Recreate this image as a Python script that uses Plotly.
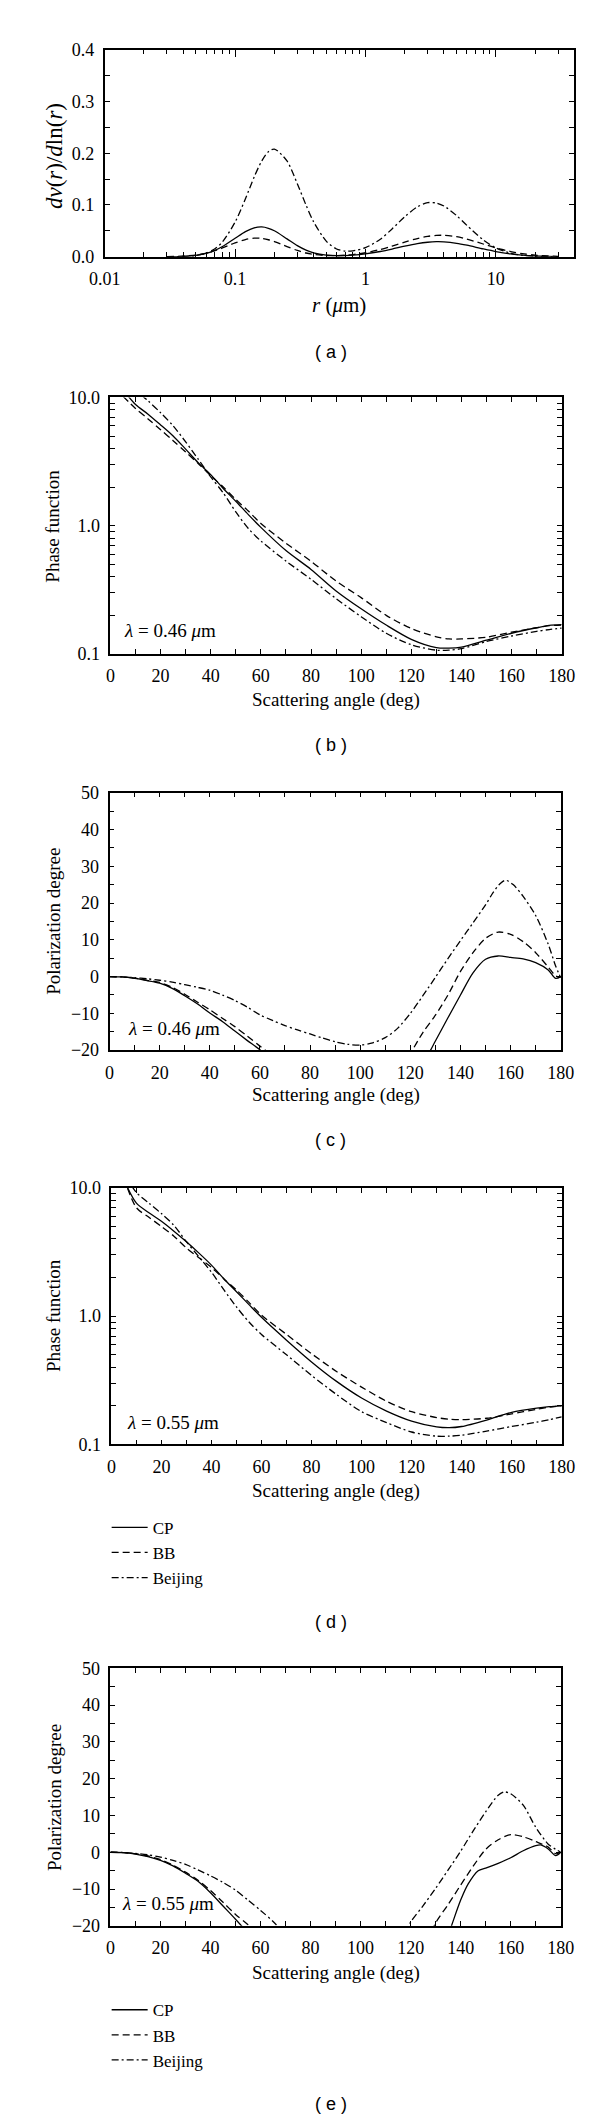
import plotly.graph_objects as go

# ---------------- data: panel (a) size distribution ----------------
r_um = [0.03, 0.04, 0.05, 0.06, 0.07, 0.08, 0.1, 0.12, 0.14, 0.16, 0.18, 0.2, 0.25, 0.3, 0.35,
        0.4, 0.5, 0.6, 0.7, 0.8, 1.0, 1.3, 1.6, 2.0, 2.5, 3.0, 3.5, 4.0, 5.0, 6.0, 8.0, 10,
        13, 16, 20, 25, 30]
dv_cp = [0.0001, 0.0007, 0.0026, 0.0065, 0.0123, 0.0197, 0.0356, 0.0485, 0.0557, 0.0575, 0.055,
         0.0501, 0.0345, 0.0214, 0.0127, 0.0075, 0.0029, 0.0019, 0.0022, 0.003, 0.0055, 0.0101,
         0.0148, 0.0204, 0.0253, 0.028, 0.029, 0.0287, 0.026, 0.0222, 0.0151, 0.010, 0.0054,
         0.003, 0.0014, 0.0006, 0.0003]
dv_bb = [0.0002, 0.0011, 0.0032, 0.0069, 0.0116, 0.0169, 0.0267, 0.0332, 0.0359, 0.0354, 0.0328,
         0.0292, 0.0196, 0.0121, 0.0072, 0.0046, 0.0024, 0.0022, 0.003, 0.0042, 0.0077, 0.014,
         0.0205, 0.0281, 0.0352, 0.0394, 0.0412, 0.0414, 0.0387, 0.0341, 0.0246, 0.0172, 0.010,
         0.0059, 0.0031, 0.0015, 0.0007]
dv_bj = [0.0, 0.0005, 0.0022, 0.0068, 0.0155, 0.0287, 0.067, 0.112, 0.154, 0.185, 0.203, 0.208,
         0.185, 0.141, 0.0997, 0.0675, 0.0302, 0.015, 0.011, 0.0115, 0.0175, 0.0338, 0.0537,
         0.0772, 0.0964, 0.1044, 0.1038, 0.098, 0.0795, 0.0605, 0.0326, 0.0171, 0.0067, 0.0028,
         0.001, 0.0003, 0.0001]

# ---------------- data: phase functions (b) 0.46 um, (d) 0.55 um ----------------
ang_pf = [5, 10, 15, 20, 25, 30, 35, 40, 45, 50, 55, 60, 70, 80, 90, 100, 110, 120, 130, 135,
          140, 150, 160, 170, 175, 180]
pf46_cp = [11.5, 8.8, 7.4, 6.1, 5.0, 3.95, 3.1, 2.5, 1.95, 1.55, 1.22, 0.97, 0.64, 0.456, 0.31,
           0.225, 0.168, 0.13, 0.112, 0.111, 0.113, 0.128, 0.145, 0.160, 0.167, 0.169]
pf46_bb = [10.2, 8.2, 6.8, 5.6, 4.6, 3.75, 3.05, 2.45, 2.0, 1.6, 1.3, 1.04, 0.73, 0.528, 0.37,
           0.275, 0.20, 0.158, 0.136, 0.131, 0.131, 0.135, 0.148, 0.16, 0.166, 0.168]
pf46_bj = [16, 11.5, 9.4, 7.6, 6.0, 4.5, 3.3, 2.4, 1.8, 1.28, 0.95, 0.76, 0.53, 0.382, 0.27,
           0.195, 0.145, 0.118, 0.107, 0.107, 0.11, 0.125, 0.138, 0.150, 0.155, 0.159]
pf55_cp = [11.5, 7.6, 6.4, 5.5, 4.6, 3.8, 3.1, 2.5, 1.95, 1.55, 1.23, 0.98, 0.65, 0.44, 0.31,
           0.23, 0.182, 0.152, 0.137, 0.135, 0.138, 0.155, 0.178, 0.192, 0.197, 0.20]
pf55_bb = [12, 7.0, 5.9, 5.0, 4.2, 3.4, 2.85, 2.4, 1.95, 1.6, 1.28, 1.02, 0.72, 0.51, 0.37,
           0.28, 0.217, 0.18, 0.162, 0.157, 0.156, 0.16, 0.173, 0.188, 0.195, 0.20]
pf55_bj = [13, 9.2, 7.6, 6.3, 5.1, 3.8, 2.9, 2.2, 1.6, 1.18, 0.9, 0.72, 0.5, 0.345, 0.245,
           0.18, 0.148, 0.125, 0.116, 0.116, 0.118, 0.127, 0.138, 0.149, 0.156, 0.164]

# ---------------- data: polarization degree (c) 0.46 um ----------------
pc_cp_ang = [0, 5, 10, 15, 20, 25, 30, 35, 40, 45, 50, 55, 60, 65, 90, 120, 125, 130, 135, 140,
             145, 150, 155, 160, 165, 170, 175, 178, 180]
pc_cp = [0, -0.1, -0.5, -1.1, -1.8, -3.2, -5.2, -7.4, -9.9, -12.2, -14.8, -17.4, -19.9, -23,
         None, -30, -24, -17.5, -11.2, -5.0, 1.0, 4.7, 5.6, 5.2, 4.8, 3.8, 1.8, -0.5, 0]
pc_bb_ang = [0, 5, 10, 15, 20, 25, 30, 35, 40, 45, 50, 55, 60, 65, 70, 90, 115, 120, 125, 130,
             135, 140, 145, 150, 155, 160, 165, 170, 175, 178, 180]
pc_bb = [0, -0.1, -0.4, -1.0, -1.6, -2.9, -4.8, -6.9, -9.0, -11.3, -13.6, -16.2, -18.9, -21.5,
         -24.5, None, -27, -21, -15.2, -10.5, -5.0, 1.4, 6.5, 10.4, 12.1, 11.5, 9.5, 6.5, 2.6,
         0.2, -0.2]
pc_bj_ang = [0, 5, 10, 15, 20, 25, 30, 35, 40, 45, 50, 55, 60, 65, 70, 75, 80, 85, 90, 95, 100,
             105, 110, 115, 120, 125, 130, 135, 140, 145, 150, 153, 156, 158, 161, 165, 170, 175,
             178, 180]
pc_bj = [0, -0.1, -0.3, -0.6, -1.0, -1.5, -2.2, -2.9, -3.7, -5.0, -6.5, -8.3, -10.4, -11.9,
         -13.3, -14.5, -15.6, -16.7, -17.7, -18.4, -18.6, -18.0, -16.6, -14.0, -10.0, -5.2, -0.2,
         4.9, 9.8, 14.6, 19.5, 22.8, 25.4, 26.2, 25.0, 21.8, 16.6, 8.8, 2.8, -0.3]

# ---------------- data: polarization degree (e) 0.55 um ----------------
pe_cp_ang = [0, 5, 10, 15, 20, 25, 30, 35, 40, 45, 50, 55, 60, 90, 130, 135, 140, 143, 147, 150,
             155, 160, 165, 170, 172, 175, 178, 180]
pe_cp = [0, -0.1, -0.5, -1.2, -2.2, -3.7, -5.7, -7.9, -11.0, -14.6, -18.2, -22.0, -26, None,
         -31, -22.5, -13.0, -8.6, -5.0, -4.3, -3.0, -1.5, 0.4, 1.8, 2.0, 0.9, -0.9, 0]
pe_bb_ang = [0, 5, 10, 15, 20, 25, 30, 35, 40, 45, 50, 55, 60, 90, 125, 130, 135, 140, 145, 150,
             155, 160, 165, 170, 175, 178, 180]
pe_bb = [0, -0.1, -0.4, -1.0, -2.0, -3.5, -5.4, -7.6, -10.4, -13.6, -16.9, -19.7, -23, None,
         -27, -19.2, -14.2, -8.9, -3.8, 0.8, 3.4, 4.8, 4.2, 2.9, 1.4, -0.4, 0]
pe_bj_ang = [0, 5, 10, 15, 20, 25, 30, 35, 40, 45, 50, 55, 60, 65, 70, 95, 115, 120, 125, 130,
             135, 140, 145, 150, 155, 157.5, 160, 165, 170, 175, 178, 180]
pe_bj = [0, -0.05, -0.3, -0.7, -1.3, -2.2, -3.3, -4.8, -6.4, -8.2, -10.3, -13.0, -15.8, -18.8,
         -22.5, None, -25.5, -19.0, -14.5, -9.8, -4.8, 0.3, 5.8, 11.0, 15.5, 16.4, 15.9, 12.8,
         6.8, 2.2, 0.8, 0]

series_names = ["CP", "BB", "Beijing"]
dash_styles = {"CP": "solid", "BB": "7px,4px", "Beijing": "7px,3px,2px,3px"}

SERIF = "Liberation Serif"
W, H = 600, 2122

fig = go.Figure()


def add_panel(idx, xs_list, ys_list, legend=None):
    xa = "x" if idx == 1 else f"x{idx}"
    ya = "y" if idx == 1 else f"y{idx}"
    for name, xs, ys in zip(series_names, xs_list, ys_list):
        fig.add_trace(go.Scatter(
            x=xs, y=ys, mode="lines", name=name, xaxis=xa, yaxis=ya,
            line=dict(color="black", width=1.3, dash=dash_styles[name], shape="spline",
                      smoothing=0.8),
            showlegend=legend is not None, legend=legend if legend else "legend",
            connectgaps=False, hoverinfo="skip"))


add_panel(1, [r_um] * 3, [dv_cp, dv_bb, dv_bj])
add_panel(2, [ang_pf] * 3, [pf46_cp, pf46_bb, pf46_bj])
add_panel(3, [pc_cp_ang, pc_bb_ang, pc_bj_ang], [pc_cp, pc_bb, pc_bj])
add_panel(4, [ang_pf] * 3, [pf55_cp, pf55_bb, pf55_bj], legend="legend")
add_panel(5, [pe_cp_ang, pe_bb_ang, pe_bj_ang], [pe_cp, pe_bb, pe_bj], legend="legend2")

# panel frames in pixels: (left, right, top, bottom)
frames = {
    1: (85, 579, 32, 241),
    2: (91, 566, 383, 642),
    3: (90, 565, 782, 1042),
    4: (92, 566, 1181, 1440),
    5: (91, 565, 1666, 1926),
}


def xdom(i):
    l, r, t, b = frames[i]
    return [l / W, r / W]


def ydom(i):
    l, r, t, b = frames[i]
    return [1 - b / H, 1 - t / H]


tickfont = dict(family=SERIF, size=18, color="black")


def base_axis(**kw):
    d = dict(showline=True, linecolor="black", linewidth=1.6, mirror="ticks",
             ticks="inside", ticklen=5, tickwidth=1.2, tickcolor="black",
             showgrid=False, zeroline=False, tickfont=tickfont, ticklabelstandoff=5)
    d.update(kw)
    return d


def log_minor(decades):
    vals = []
    for d in decades:
        for k in range(2, 10):
            vals.append(k * 10 ** d)
    return vals


minor_lin = lambda dt: dict(dtick=dt, ticks="inside", ticklen=5, tickwidth=1.2, tickcolor="black")

layout = dict(
    width=W, height=H, margin=dict(l=0, r=0, t=0, b=0),
    paper_bgcolor="white", plot_bgcolor="white",
    font=dict(family=SERIF, size=18, color="black"),
)

# panel (a)
layout["xaxis"] = base_axis(
    domain=xdom(1), anchor="y", type="log", range=[-2, 1.6],
    tickmode="array", tickvals=[0.01, 0.1, 1, 10], ticktext=["0.01", "0.1", "1", "10"],
    ticklen=8,
    minor=dict(tickmode="array", tickvals=log_minor([-2, -1, 0, 1]), ticks="inside",
               ticklen=5, tickwidth=1.2, tickcolor="black"))
layout["yaxis"] = base_axis(
    domain=ydom(1), anchor="x", range=[0, 0.4], dtick=0.1, tickformat=".1f",
    minor=minor_lin(0.05))

for i in (2, 3, 4, 5):
    layout[f"xaxis{i}"] = base_axis(domain=xdom(i), anchor=f"y{i}", range=[0, 180], dtick=20,
                                    minor=minor_lin(10))
    if i in (2, 4):
        ya = dict(domain=ydom(i), anchor=f"x{i}", type="log", range=[-1, 1],
                  tickmode="array", tickvals=[0.1, 1, 10], ticktext=["0.1", "1.0", "10.0"],
                  minor=dict(tickmode="array", tickvals=log_minor([-1, 0]), ticks="inside",
                             ticklen=5, tickwidth=1.2, tickcolor="black"))
    else:
        ya = dict(domain=ydom(i), anchor=f"x{i}", range=[-20, 50], dtick=10,
                  minor=minor_lin(5))
    layout[f"yaxis{i}"] = base_axis(**ya)

leg_common = dict(orientation="v", xanchor="left", yanchor="top", bgcolor="rgba(0,0,0,0)",
                  borderwidth=0, font=dict(family=SERIF, size=17, color="black"),
                  itemwidth=36)
layout["legend"] = dict(x=87 / W, y=1 - 1506 / H, **leg_common)
layout["legend2"] = dict(x=87 / W, y=1 - 1993 / H, **leg_common)

annotations = []


def text_at(txt, px, py, size, family=SERIF, angle=0, anchor="center"):
    annotations.append(dict(
        text=txt, xref="paper", yref="paper", x=px / W, y=1 - py / H,
        xanchor=anchor, yanchor="middle", showarrow=False, textangle=angle,
        font=dict(family=family, size=size, color="black")))


# axis titles (centres measured in pixels)
text_at("<i>dv</i>(<i>r</i>)/<i>d</i>ln(<i>r</i>)", 32, 139, 23, angle=-90)
text_at("<i>r</i> (<i>μ</i>m)", 332, 290, 21)
y_titles = [("Phase function", 30.5, 512.5), ("Polarization degree", 31, 912),
            ("Phase function", 31, 1310), ("Polarization degree", 31.5, 1796)]
for txt, px, py in y_titles:
    text_at(txt, px, py, 19, angle=-90)
for py in (688, 1087, 1487, 1974):
    text_at("Scattering angle (deg)", 328, py, 19)

# wavelength labels
lam_text = [("0.46", 103, 618), ("0.46", 107, 1020), ("0.55", 106, 1418), ("0.55", 101, 1903)]
for lam, px, py in lam_text:
    text_at(f"<i>λ</i> = {lam} <i>μ</i>m", px, py, 19, anchor="left")

# panel sub-labels
sub_labels = [("( a )", 337), ("( b )", 734), ("( c )", 1133), ("( d )", 1619), ("( e )", 2106)]
for txt, py in sub_labels:
    text_at(txt, 323, py, 18, family="Liberation Sans")

layout["annotations"] = annotations
fig.update_layout(**layout)

fig.write_html("out.html")
